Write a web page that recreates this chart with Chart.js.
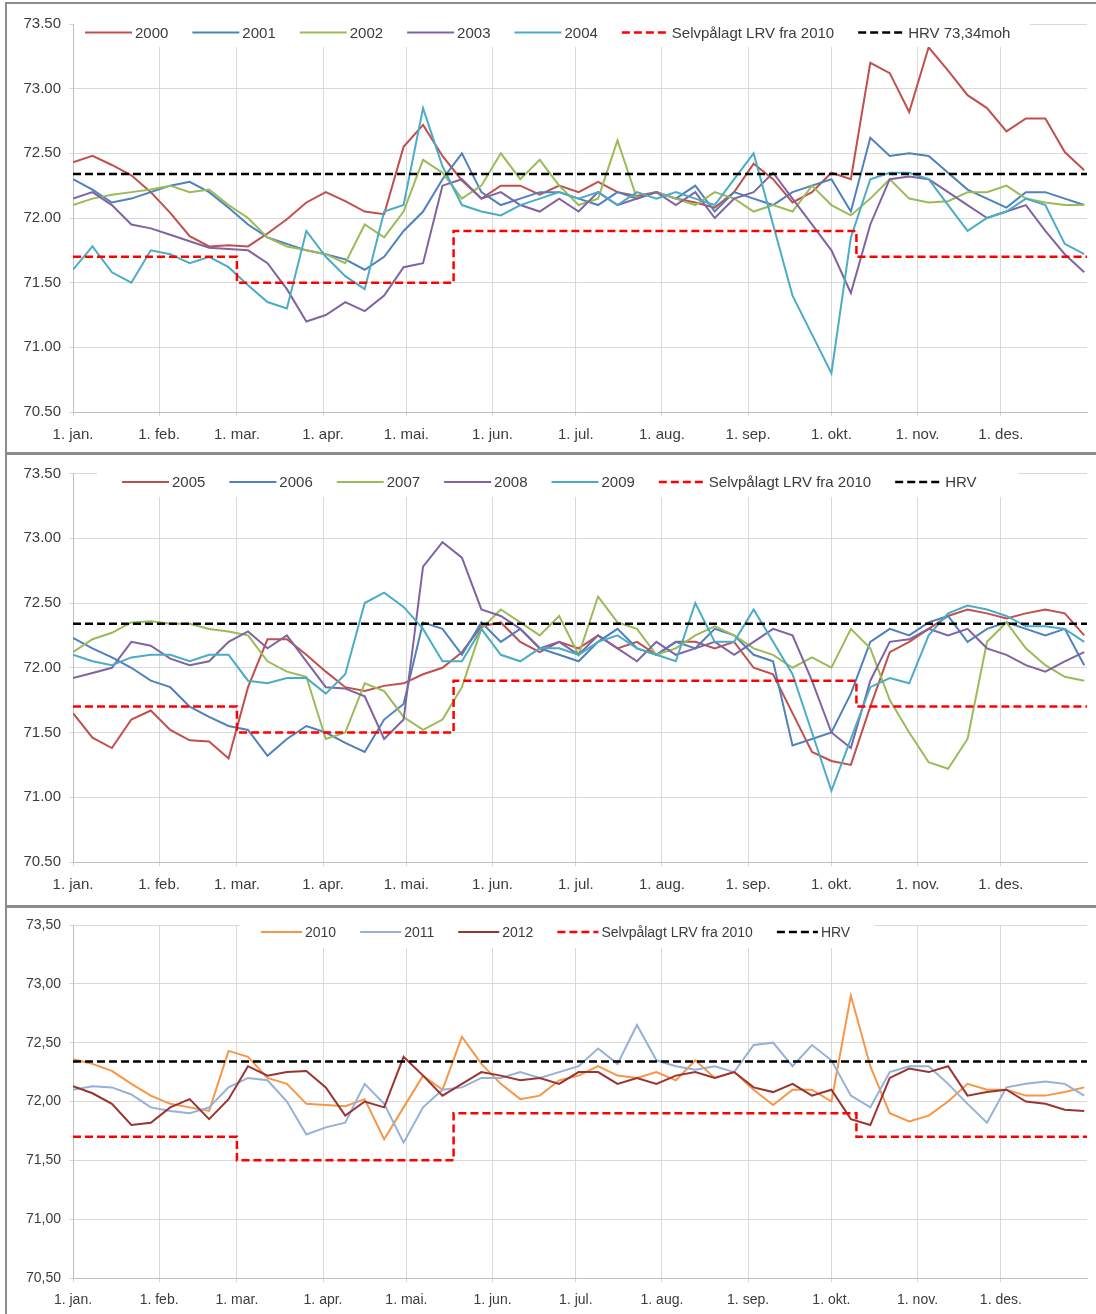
<!DOCTYPE html>
<html lang="no">
<head>
<meta charset="utf-8">
<title>Vannstand 2000–2012</title>
<script src="https://cdn.jsdelivr.net/npm/chart.js@4.4.0/dist/chart.umd.min.js"></script>
<style>
  html, body { margin: 0; padding: 0; background: #fff; }
  body { position: relative; width: 1096px; height: 1314px; overflow: hidden; }
  .frame { position: absolute; left: 5px; width: 1100px; border: 2px solid #8c8c8c; box-sizing: border-box; }
  canvas { position: absolute; left: 0; }
</style>
</head>
<body>
<div class="frame" style="top:2px;height:452px"></div>
<div class="frame" style="top:453px;height:454px"></div>
<div class="frame" style="top:906px;height:420px"></div>
<canvas id="chart1" width="1096" height="453" style="top:0"></canvas>
<canvas id="chart2" width="1096" height="451" style="top:455px"></canvas>
<canvas id="chart3" width="1096" height="406" style="top:908px"></canvas>
<script>
// Day of year for each reading (weekly)
const days = [0, 7, 14, 21, 28, 35, 42, 49, 56, 63, 70, 77, 84, 91, 98, 105, 112, 119, 126, 133, 140, 147, 154, 161, 168,
    175, 182, 189, 196, 203, 210, 217, 224, 231, 238, 245, 252, 259, 266, 273, 280, 287, 294, 301, 308, 315, 322, 329, 336, 343, 350, 357, 364];

// Month ticks
const monthDays = [0, 31, 59, 90, 120, 151, 181, 212, 243, 273, 304, 334];
const monthLabels = ['1. jan.', '1. feb.', '1. mar.', '1. apr.', '1. mai.', '1. jun.', '1. jul.', '1. aug.', '1. sep.', '1. okt.', '1. nov.', '1. des.'];

// Reference levels
const lrvDays = [0, 59, 137, 282, 365];
const lrvLevels = [71.7, 71.5, 71.9, 71.7, 71.7];
const hrvDays = [0, 365];
const hrvLevels = [72.34, 72.34];

// Water level per year (moh)
const y2000 = [72.43, 72.48, 72.41, 72.33, 72.2, 72.04, 71.86, 71.78, 71.79, 71.78, 71.88, 71.99, 72.12, 72.2, 72.13, 72.05, 72.03, 72.55, 72.72, 72.48, 72.29, 72.15, 72.25, 72.25, 72.18,
    72.25, 72.2, 72.28, 72.2, 72.17, 72.2, 72.15, 72.12, 72.08, 72.2, 72.42, 72.3, 72.12, 72.2, 72.35, 72.3, 73.2, 73.12, 72.82, 73.32, 73.14, 72.95, 72.85, 72.67, 72.77, 72.77, 72.51, 72.37];
const y2001 = [72.3, 72.22, 72.12, 72.15, 72.2, 72.25, 72.28, 72.2, 72.08, 71.95, 71.85, 71.8, 71.75, 71.72, 71.68, 71.6, 71.7, 71.9, 72.05, 72.3, 72.5, 72.2, 72.1, 72.15, 72.2,
    72.2, 72.15, 72.1, 72.2, 72.15, 72.2, 72.15, 72.25, 72.05, 72.2, 72.15, 72.1, 72.2, 72.25, 72.3, 72.05, 72.62, 72.48, 72.5, 72.48, 72.35, 72.22, 72.15, 72.08, 72.2, 72.2, 72.15, 72.1];
const y2002 = [72.1, 72.15, 72.18, 72.2, 72.22, 72.25, 72.2, 72.22, 72.1, 72.0, 71.85, 71.78, 71.75, 71.72, 71.65, 71.95, 71.85, 72.05, 72.45, 72.35, 72.15, 72.25, 72.5, 72.3, 72.45,
    72.25, 72.1, 72.15, 72.6, 72.15, 72.2, 72.15, 72.1, 72.2, 72.15, 72.05, 72.1, 72.05, 72.25, 72.1, 72.02, 72.15, 72.3, 72.15, 72.12, 72.13, 72.2, 72.2, 72.25, 72.15, 72.12, 72.1, 72.1];
const y2003 = [72.15, 72.2, 72.1, 71.95, 71.92, 71.87, 71.82, 71.77, 71.76, 71.75, 71.65, 71.45, 71.2, 71.25, 71.35, 71.28, 71.4, 71.62, 71.65, 72.25, 72.3, 72.15, 72.2, 72.1, 72.05,
    72.15, 72.05, 72.2, 72.1, 72.15, 72.2, 72.1, 72.2, 72.0, 72.15, 72.2, 72.35, 72.15, 71.95, 71.75, 71.42, 71.95, 72.3, 72.32, 72.3, 72.2, 72.1, 72.0, 72.05, 72.1, 71.9, 71.72, 71.58];
const y2004 = [71.6, 71.78, 71.58, 71.5, 71.75, 71.72, 71.65, 71.7, 71.62, 71.48, 71.35, 71.3, 71.9, 71.7, 71.55, 71.45, 72.05, 72.1, 72.85, 72.4, 72.1, 72.05, 72.02, 72.1, 72.15,
    72.2, 72.15, 72.2, 72.1, 72.2, 72.15, 72.2, 72.15, 72.1, 72.3, 72.5, 71.95, 71.4, 71.1, 70.8, 71.85, 72.3, 72.35, 72.35, 72.3, 72.1, 71.9, 72.0, 72.05, 72.15, 72.1, 71.8, 71.72];

const y2005 = [71.65, 71.46, 71.38, 71.6, 71.67, 71.52, 71.44, 71.43, 71.3, 71.85, 72.22, 72.22, 72.1, 71.97, 71.85, 71.82, 71.86, 71.88, 71.95, 72.0, 72.12, 72.32, 72.35, 72.2, 72.12,
    72.2, 72.15, 72.25, 72.15, 72.2, 72.1, 72.2, 72.2, 72.15, 72.2, 72.0, 71.95, 71.65, 71.35, 71.28, 71.25, 71.7, 72.12, 72.2, 72.3, 72.4, 72.45, 72.42, 72.38, 72.42, 72.45, 72.42, 72.25];
const y2006 = [72.23, 72.15, 72.08, 72.0, 71.9, 71.85, 71.7, 71.62, 71.55, 71.52, 71.32, 71.45, 71.55, 71.5, 71.42, 71.35, 71.6, 71.72, 72.35, 72.3, 72.1, 72.35, 72.2, 72.3, 72.15,
    72.1, 72.05, 72.2, 72.3, 72.15, 72.1, 72.2, 72.15, 72.3, 72.25, 72.1, 72.05, 71.4, 71.45, 71.5, 71.8, 72.2, 72.3, 72.25, 72.35, 72.4, 72.2, 72.3, 72.35, 72.3, 72.25, 72.3, 72.02];
const y2007 = [72.12, 72.22, 72.27, 72.35, 72.36, 72.34, 72.34, 72.3, 72.28, 72.25, 72.05, 71.97, 71.93, 71.45, 71.5, 71.88, 71.82, 71.62, 71.52, 71.6, 71.85, 72.3, 72.45, 72.35, 72.25,
    72.4, 72.1, 72.55, 72.35, 72.3, 72.1, 72.15, 72.25, 72.32, 72.25, 72.15, 72.1, 72.0, 72.08, 72.0, 72.3, 72.15, 71.75, 71.5, 71.27, 71.22, 71.45, 72.2, 72.35, 72.15, 72.02, 71.93, 71.9];
const y2008 = [71.92, 71.96, 72.0, 72.2, 72.17, 72.07, 72.02, 72.05, 72.2, 72.28, 72.15, 72.25, 72.05, 71.85, 71.84, 71.78, 71.45, 71.6, 72.78, 72.97, 72.85, 72.45, 72.4, 72.3, 72.15,
    72.2, 72.1, 72.25, 72.15, 72.05, 72.2, 72.1, 72.15, 72.2, 72.1, 72.2, 72.3, 72.25, 71.9, 71.5, 71.38, 71.9, 72.2, 72.22, 72.3, 72.25, 72.3, 72.15, 72.1, 72.02, 71.97, 72.05, 72.12];
const y2009 = [72.1, 72.05, 72.02, 72.08, 72.1, 72.1, 72.05, 72.1, 72.1, 71.9, 71.88, 71.92, 71.92, 71.8, 71.95, 72.5, 72.58, 72.47, 72.3, 72.05, 72.05, 72.3, 72.1, 72.05, 72.15,
    72.15, 72.1, 72.2, 72.25, 72.15, 72.1, 72.05, 72.5, 72.2, 72.2, 72.45, 72.2, 71.95, 71.5, 71.05, 71.45, 71.85, 71.92, 71.88, 72.25, 72.42, 72.48, 72.45, 72.4, 72.32, 72.32, 72.3, 72.2];

const y2010 = [72.36, 72.32, 72.26, 72.15, 72.05, 71.98, 71.95, 71.92, 72.43, 72.38, 72.2, 72.15, 71.98, 71.97, 71.96, 72.02, 71.68, 71.95, 72.22, 72.1, 72.55, 72.32, 72.15, 72.02, 72.05,
    72.18, 72.22, 72.3, 72.22, 72.2, 72.25, 72.18, 72.35, 72.2, 72.25, 72.1, 71.97, 72.1, 72.1, 72.0, 72.9, 72.3, 71.9, 71.83, 71.88, 72.0, 72.15, 72.1, 72.1, 72.05, 72.05, 72.08, 72.12];
const y2011 = [72.1, 72.13, 72.12, 72.06, 71.95, 71.92, 71.9, 71.95, 72.12, 72.2, 72.18, 72.0, 71.72, 71.78, 71.82, 72.15, 71.98, 71.65, 71.95, 72.1, 72.12, 72.2, 72.2, 72.25, 72.2,
    72.25, 72.3, 72.45, 72.32, 72.65, 72.35, 72.3, 72.27, 72.3, 72.25, 72.48, 72.5, 72.3, 72.48, 72.35, 72.05, 71.95, 72.25, 72.3, 72.3, 72.15, 71.98, 71.82, 72.12, 72.15, 72.17, 72.15, 72.05];
const y2012 = [72.13, 72.07, 71.98, 71.8, 71.82, 71.95, 72.02, 71.85, 72.02, 72.3, 72.22, 72.25, 72.26, 72.12, 71.88, 72.0, 71.95, 72.38, 72.22, 72.05, 72.15, 72.25, 72.22, 72.18, 72.2,
    72.15, 72.25, 72.25, 72.15, 72.2, 72.15, 72.22, 72.25, 72.2, 72.25, 72.12, 72.08, 72.15, 72.05, 72.1, 71.85, 71.8, 72.2, 72.28, 72.25, 72.3, 72.05, 72.08, 72.1, 72.0, 71.98, 71.93, 71.92];

// Series per panel
const panel1Years = ['2000', '2001', '2002', '2003', '2004'];
const panel1Values = [y2000, y2001, y2002, y2003, y2004];
const panel2Years = ['2005', '2006', '2007', '2008', '2009'];
const panel2Values = [y2005, y2006, y2007, y2008, y2009];
const panel3Years = ['2010', '2011', '2012'];
const panel3Values = [y2010, y2011, y2012];

const lrvLabel = 'Selvpålagt LRV fra 2010';

// Colours (Excel theme)
const fiveColors = ['#c0504d', '#4f81bd', '#9bbb59', '#8064a2', '#4bacc6'];
const threeColors = ['#f79646', '#95b1d8', '#9a3431'];
const textColor = '#3c3c3c';
const gridColor = '#d9d9d9';

// Draws the Excel style legend on a white box inside the plot
const boxLegend = {
    id: 'boxLegend',
    afterDraw(chart, args, opts) {
        const ctx = chart.ctx;
        const b = opts.box;
        ctx.save();
        ctx.fillStyle = '#fff';
        ctx.fillRect(b[0], b[1], b[2] - b[0], b[3] - b[1]);
        ctx.font = opts.fontSize + 'px "Liberation Sans", Arial, sans-serif';
        ctx.textBaseline = 'middle';
        let x = opts.x;
        chart.data.datasets.forEach(ds => {
            ctx.beginPath();
            ctx.setLineDash(ds.borderDash || []);
            ctx.strokeStyle = ds.borderColor;
            ctx.lineWidth = ds.borderWidth;
            ctx.moveTo(x, opts.y);
            ctx.lineTo(x + opts.lineLen, opts.y);
            ctx.stroke();
            ctx.setLineDash([]);
            x += opts.lineLen + 3;
            ctx.fillStyle = textColor;
            ctx.fillText(ds.label, x, opts.y + 1);
            x += ctx.measureText(ds.label).width + opts.gap;
        });
        ctx.restore();
    }
};

function toPoints(xs, ys) {
    return xs.map((d, i) => ({ x: d, y: ys[i] }));
}

function buildChart(layout, years, values, colors) {
    const datasets = years.map((year, i) => ({
        label: year,
        data: toPoints(days, values[i]),
        borderColor: colors[i],
        borderWidth: 2,
        pointRadius: 0,
        tension: 0
    }));
    datasets.push({
        label: lrvLabel,
        data: toPoints(lrvDays, lrvLevels),
        stepped: true,
        borderColor: '#ff0000',
        borderDash: [8, 4],
        borderWidth: 2.5,
        pointRadius: 0
    });
    datasets.push({
        label: layout.hrvLabel,
        data: toPoints(hrvDays, hrvLevels),
        borderColor: '#000000',
        borderDash: [8, 4],
        borderWidth: 2.5,
        pointRadius: 0
    });
    // later series drawn on top, like Excel
    datasets.forEach((ds, i) => { ds.order = datasets.length - 1 - i; });

    const font = { family: '"Liberation Sans", Arial, sans-serif', size: layout.fontSize };

    new Chart(document.getElementById(layout.id), {
        type: 'line',
        data: { datasets: datasets },
        plugins: [boxLegend],
        options: {
            responsive: false,
            animation: false,
            devicePixelRatio: 1,
            layout: { padding: { top: layout.padTop, right: 9, bottom: layout.padBottom, left: 0 } },
            plugins: {
                legend: { display: false },
                tooltip: { enabled: false },
                boxLegend: layout.legend
            },
            scales: {
                x: {
                    type: 'linear',
                    min: 0,
                    max: 365,
                    afterBuildTicks: scale => { scale.ticks = monthDays.map(v => ({ value: v })); },
                    afterFit: scale => { scale.height = 36; },
                    grid: { color: gridColor, tickLength: 4 },
                    border: { color: '#bfbfbf' },
                    ticks: {
                        autoSkip: false,
                        maxRotation: 0,
                        minRotation: 0,
                        padding: 10,
                        color: textColor,
                        font: font,
                        callback: (value, index) => monthLabels[index]
                    }
                },
                y: {
                    min: 70.5,
                    max: 73.5,
                    afterFit: scale => { scale.width = 73; },
                    grid: { color: gridColor, tickLength: 4 },
                    border: { color: '#bfbfbf' },
                    ticks: {
                        stepSize: 0.5,
                        padding: 8,
                        color: textColor,
                        font: font,
                        callback: v => v.toFixed(2).replace('.', layout.decimal)
                    }
                }
            }
        }
    });
}

window.addEventListener('load', () => {
    buildChart({
        id: 'chart1', padTop: 24, padBottom: 5, fontSize: 15, decimal: '.', hrvLabel: 'HRV 73,34moh',
        legend: { x: 85, y: 32.5, lineLen: 47, gap: 24, fontSize: 15, box: [74, 15, 1030, 47] }
    }, panel1Years, panel1Values, fiveColors);

    buildChart({
        id: 'chart2', padTop: 18.5, padBottom: 8, fontSize: 15, decimal: '.', hrvLabel: 'HRV',
        legend: { x: 122, y: 27, lineLen: 47, gap: 24, fontSize: 15, box: [97, 10, 1018, 42] }
    }, panel2Years, panel2Values, fiveColors);

    buildChart({
        id: 'chart3', padTop: 17, padBottom: 0, fontSize: 14, decimal: ',', hrvLabel: 'HRV',
        legend: { x: 261, y: 24, lineLen: 41, gap: 24, fontSize: 14, box: [240, 7, 875, 40] }
    }, panel3Years, panel3Values, threeColors);
});
</script>
</body>
</html>
